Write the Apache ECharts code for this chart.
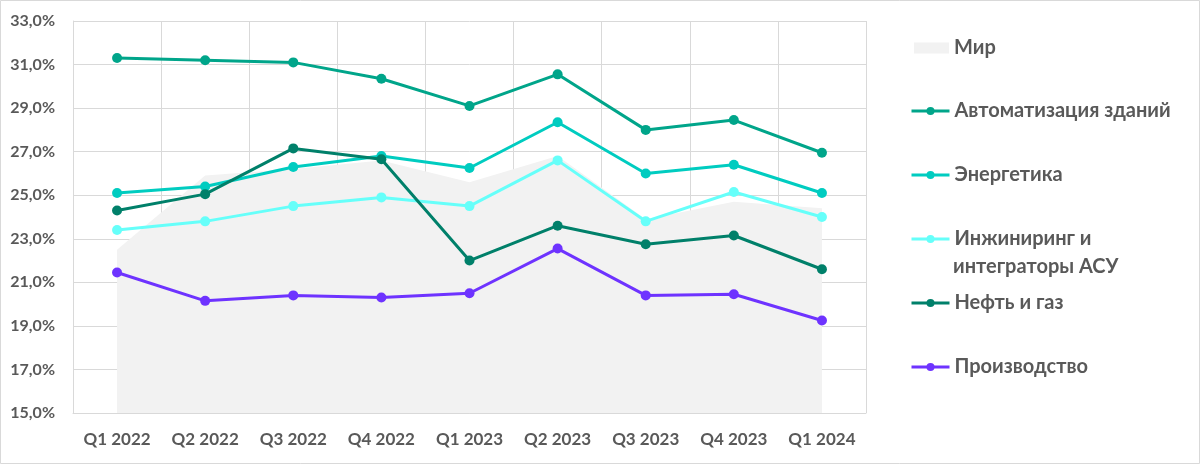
<!DOCTYPE html>
<html>
<head>
<meta charset="utf-8">
<script src="https://cdn.jsdelivr.net/npm/echarts@6/dist/echarts.min.js"></script>
<style>
html,body{margin:0;padding:0;background:#fff;}
#c{width:1200px;height:464px;}
</style>
</head>
<body>
<div id="c"></div>
<script>
const categories = ['Q1 2022','Q2 2022','Q3 2022','Q4 2022','Q1 2023','Q2 2023','Q3 2023','Q4 2023','Q1 2024'];
const mir          = [22.5, 25.9, 26.2, 26.6, 25.6, 26.8, 23.9, 24.7, 24.4];
const avtomatizac  = [31.3, 31.2, 31.1, 30.35, 29.1, 30.55, 28.0, 28.45, 26.95];
const energetika   = [25.1, 25.4, 26.3, 26.8, 26.25, 28.35, 26.0, 26.4, 25.1];
const inzhiniring  = [23.4, 23.8, 24.5, 24.9, 24.5, 26.6, 23.8, 25.15, 24.0];
const neftGaz      = [24.3, 25.05, 27.15, 26.65, 22.0, 23.6, 22.75, 23.15, 21.6];
const proizvodstvo = [21.45, 20.15, 20.4, 20.3, 20.5, 22.55, 20.4, 20.45, 19.25];
const yTicks = {min: 15, max: 33, interval: 2};

const names = ['Мир','Автоматизация зданий','Энергетика','Инжиниринг и интеграторы АСУ','Нефть и газ','Производство'];
const colors = ['#F2F2F2','#00A58A','#00CCC0','#66FFFA','#00806A','#6E33FF'];
const lineData = [avtomatizac, energetika, inzhiniring, neftGaz, proizvodstvo];

const FONT = 'Lato';
const TXT = '#595959';

const series = [{
  name: names[0], type: 'line', data: mir, symbol: 'none',
  lineStyle: {width: 0, color: colors[0]}, itemStyle: {color: colors[0]},
  areaStyle: {color: colors[0], opacity: 1, origin: 'start'}, z: 1
}];
lineData.forEach((d, i) => {
  series.push({
    name: names[i+1], type: 'line', data: d,
    symbol: 'circle', symbolSize: 10,
    lineStyle: {width: 3, color: colors[i+1]},
    itemStyle: {color: colors[i+1]}, z: 2 + i
  });
});

const legendCenters = [48, 111, 175, 239, 303, 367];
const legends = names.map((n, i) => ({
  data: [i === 0 ? {name: n, icon: 'rect'} : n],
  orient: 'vertical',
  left: i === 0 ? 914 : 910,
  top: legendCenters[i] - 12,
  padding: 0,
  itemWidth: i === 0 ? 35 : 38,
  itemHeight: i === 0 ? 11 : 10,
  itemGap: 0,
  selectedMode: false,
  lineStyle: {width: 3},
  formatter: (name) => name === names[3] ? 'Инжиниринг и' : name,
  textStyle: {fontFamily: FONT, fontSize: 20, fontWeight: 'bold', color: TXT, lineHeight: 24}
}));

const chart = echarts.init(document.getElementById('c'));
chart.setOption({
  animation: false,
  backgroundColor: '#fff',
  grid: {left: 73, right: 334, top: 21, bottom: 51, containLabel: false},
  legend: legends,
  graphic: [
    {type: 'rect', shape: {x: 0.5, y: 0.5, width: 1199, height: 463}, style: {fill: 'none', stroke: '#D9D9D9', lineWidth: 1}, silent: true},
    {type: 'text', x: 953, y: 267, style: {text: 'интеграторы АСУ', font: 'bold 20px ' + FONT, fill: TXT, verticalAlign: 'middle', align: 'left'}, silent: true}
  ],
  xAxis: {
    type: 'category', data: categories, boundaryGap: true,
    axisLine: {show: true, lineStyle: {color: '#D9D9D9', width: 1}},
    axisTick: {show: false},
    splitLine: {show: true, lineStyle: {color: '#D9D9D9', width: 1}},
    axisLabel: {fontFamily: FONT, fontSize: 17, fontWeight: 'bold', color: TXT, margin: 18}
  },
  yAxis: {
    type: 'value', min: yTicks.min, max: yTicks.max, interval: yTicks.interval,
    axisLine: {show: true, lineStyle: {color: '#D9D9D9', width: 1}},
    axisTick: {show: false},
    splitLine: {show: true, lineStyle: {color: '#D9D9D9', width: 1}},
    axisLabel: {fontFamily: FONT, fontSize: 16, fontWeight: 'bold', color: TXT, margin: 18,
      formatter: v => v.toFixed(1).replace('.', ',') + '%'}
  },
  series: series
});
</script>
</body>
</html>
